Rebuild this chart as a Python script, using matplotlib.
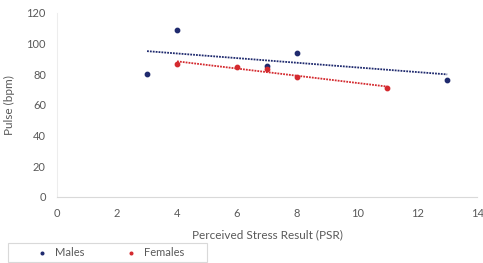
import numpy as np
import matplotlib
matplotlib.use("Agg")
import matplotlib.pyplot as plt
from matplotlib.patches import Rectangle

plt.rcParams['font.family'] = ['Lato', 'DejaVu Sans']

male_x = [3, 4, 7, 8, 13]
male_y = [80, 109, 85.5, 94, 76.5]
female_x = [4, 6, 7, 8, 11]
female_y = [86.5, 85, 83.5, 78.5, 71]

male_color = '#1F2A6E'
female_color = '#D42A2F'
gray = '#595959'

fig = plt.figure(figsize=(4.83, 2.63), dpi=100)
ax = fig.add_axes([0.118, 0.251, 0.870, 0.700])

ax.scatter(male_x, male_y, s=10, color=male_color, zorder=3, label='Males')
ax.scatter(female_x, female_y, s=10, color=female_color, zorder=3, label='Females')

for xs, ys, c in [(male_x, male_y, male_color), (female_x, female_y, female_color)]:
    m, b = np.polyfit(xs, ys, 1)
    xx = np.array([min(xs), max(xs)])
    ax.plot(xx, m * xx + b, linestyle=(0, (1, 0.6)), color=c, lw=1.3, zorder=2)

ax.set_xlim(0, 14)
ax.set_ylim(0, 120)
ax.set_xticks(range(0, 15, 2))
ax.set_yticks(range(0, 121, 20))
for s in ['top', 'right']:
    ax.spines[s].set_visible(False)
ax.spines['left'].set_color('#EDEDED')
ax.spines['bottom'].set_color('#D9D9D9')
ax.tick_params(length=0, colors=gray, labelsize=8, pad=8)
ax.set_xlabel('Perceived Stress Result (PSR)', color=gray, fontsize=8.5, labelpad=7)
ax.set_ylabel('Pulse (bpm)', color=gray, fontsize=8.5, labelpad=8)

box = (8/483, 1/263, 199/483, 19/263)
fig.patches.append(Rectangle(box[:2], box[2], box[3], transform=fig.transFigure,
                             facecolor='white', edgecolor='#D9D9D9', lw=0.8))
leg = fig.legend(loc='center', bbox_to_anchor=box, ncol=2, fontsize=8,
                 frameon=False, markerscale=0.6,
                 handletextpad=0.2, columnspacing=3.2, borderpad=0.0)
for t in leg.get_texts():
    t.set_color(gray)

fig.savefig('out.png', dpi=100)
